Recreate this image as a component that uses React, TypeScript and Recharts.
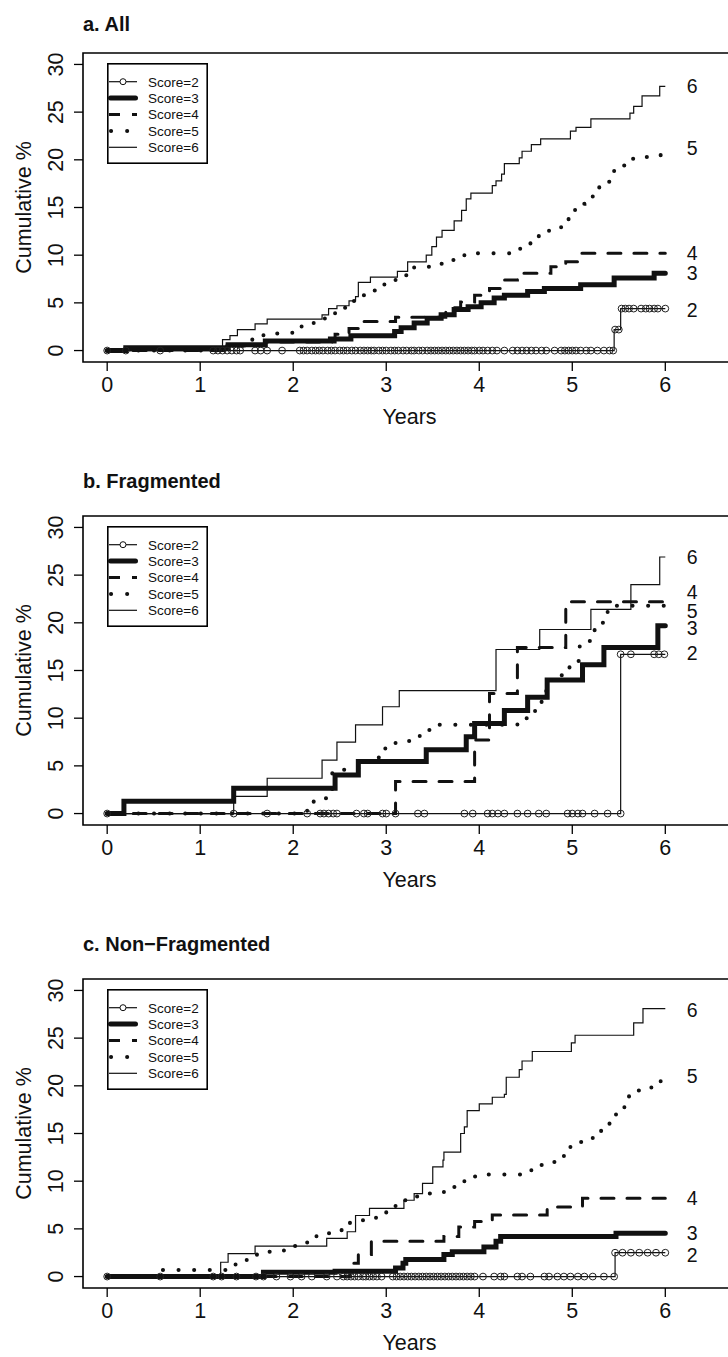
import React from 'react';
import { ComposedChart, Line, Scatter, XAxis, YAxis, ReferenceArea, Legend } from 'recharts';

type Pt = [number, number];
type CensGroup = [number, number[]];

const X_TICKS = [0, 1, 2, 3, 4, 5, 6];
const Y_TICKS = [0, 5, 10, 15, 20, 25, 30];
const X_DOMAIN: [number, number] = [-0.26, 6.76];
const Y_DOMAIN: [number, number] = [-1.2, 31.2];
const SERIES_NAMES = ['Score=2', 'Score=3', 'Score=4', 'Score=5', 'Score=6'];
const END_LABELS = ['2', '3', '4', '5', '6'];
const END_LABEL_X = 6.29;
const PANEL_TITLES = ['a. All', 'b. Fragmented', 'c. Non\u2212Fragmented'];

// ---------- a. All ----------
const A2: Pt[] = [[0, 0], [5.45, 2.2], [5.52, 4.4], [6.0, 4.4]];
const A3: Pt[] = [[0, 0], [0.2, 0.3], [1.3, 0.6], [1.7, 1.0], [2.4, 1.2], [2.62, 1.55], [3.09, 2.0], [3.16, 2.4], [3.3, 2.9], [3.44, 3.4], [3.59, 3.75], [3.73, 4.3], [3.88, 4.6], [4.02, 5.0], [4.16, 5.5], [4.27, 5.8], [4.52, 6.2], [4.7, 6.5], [5.09, 6.9], [5.45, 7.6], [5.88, 8.1], [6.0, 8.1]];
const A4: Pt[] = [[0, 0], [1.3, 0.5], [1.7, 0.9], [2.45, 1.7], [2.6, 2.3], [2.7, 3.05], [3.1, 3.5], [3.64, 4.5], [3.8, 5.1], [3.95, 5.8], [4.11, 6.5], [4.27, 7.4], [4.41, 8.1], [4.77, 8.8], [4.93, 9.3], [5.09, 10.2], [6.0, 10.2]];
const A5: Pt[] = [[0, 0], [1.25, 0.5], [1.56, 1.4], [1.68, 1.8], [1.99, 2.3], [2.09, 2.7], [2.22, 3.2], [2.34, 3.75], [2.45, 4.5], [2.6, 5.2], [2.72, 5.8], [2.87, 6.3], [2.98, 7.1], [3.1, 7.9], [3.3, 8.8], [3.48, 9.1], [3.62, 9.5], [3.84, 10.2], [4.44, 10.7], [4.55, 11.4], [4.64, 12.3], [4.75, 12.9], [4.88, 13.6], [4.96, 14.4], [5.03, 15.4], [5.13, 16.0], [5.22, 16.8], [5.29, 17.7], [5.4, 18.3], [5.45, 19.4], [5.56, 20.1], [5.7, 20.3], [5.95, 21.3], [6.0, 21.3]];
const A6: Pt[] = [[0, 0], [1.24, 1.15], [1.32, 1.56], [1.4, 2.2], [1.59, 2.8], [1.72, 3.3], [2.31, 3.75], [2.38, 4.4], [2.47, 4.7], [2.6, 5.2], [2.67, 5.66], [2.7, 7.15], [2.83, 7.7], [3.12, 8.3], [3.23, 9.3], [3.43, 10.0], [3.49, 10.9], [3.54, 11.9], [3.6, 12.6], [3.73, 13.6], [3.81, 14.7], [3.86, 15.9], [3.91, 16.5], [4.14, 17.3], [4.18, 17.8], [4.24, 18.5], [4.27, 19.6], [4.43, 20.2], [4.46, 20.9], [4.56, 21.6], [4.66, 22.2], [4.98, 23.0], [5.04, 23.4], [5.2, 24.3], [5.62, 24.9], [5.66, 25.6], [5.75, 26.7], [5.94, 27.7], [6.0, 27.7]];
const A2_CENS: CensGroup[] = [
  [0, [0, 0.2, 0.57, 1.14, 1.19, 1.24, 1.29, 1.34, 1.39, 1.43, 1.59, 1.65, 1.72, 1.88, 2.07, 2.11, 2.15, 2.2, 2.24, 2.28, 2.32, 2.37, 2.41, 2.45, 2.5, 2.54, 2.58, 2.63, 2.67, 2.72, 2.76, 2.8, 2.84, 2.87, 2.92, 2.96, 3.0, 3.05, 3.09, 3.13, 3.18, 3.22, 3.27, 3.3, 3.35, 3.39, 3.44, 3.48, 3.52, 3.56, 3.6, 3.64, 3.68, 3.72, 3.76, 3.8, 3.84, 3.88, 3.92, 3.95, 4.0, 4.04, 4.09, 4.14, 4.19, 4.27, 4.36, 4.41, 4.46, 4.51, 4.56, 4.61, 4.67, 4.72, 4.81, 4.88, 4.92, 4.96, 5.0, 5.04, 5.09, 5.15, 5.2, 5.27, 5.34, 5.4, 5.44]],
  [2.2, [5.46, 5.5]],
  [4.4, [5.53, 5.57, 5.61, 5.66, 5.74, 5.79, 5.83, 5.88, 5.92, 6.0]],
];
const A_LABEL_Y = [4.3, 8.1, 10.2, 21.25, 27.7];

// ---------- b. Fragmented ----------
const B2: Pt[] = [[0, 0], [5.52, 16.7], [6.0, 16.7]];
const B3: Pt[] = [[0, 0], [0.18, 1.3], [1.36, 2.65], [2.45, 4.05], [2.7, 5.45], [3.43, 6.7], [3.86, 8.05], [3.95, 9.45], [4.27, 10.8], [4.52, 12.2], [4.73, 14.0], [5.11, 15.6], [5.34, 17.4], [5.92, 19.7], [6.0, 19.7]];
const B4: Pt[] = [[0, 0], [3.1, 3.37], [3.95, 7.7], [4.11, 12.6], [4.41, 17.4], [4.93, 22.2], [6.0, 22.2]];
const B5: Pt[] = [[0, 0], [2.15, 0.6], [2.22, 1.6], [2.42, 4.6], [2.7, 5.1], [2.8, 5.6], [2.92, 6.1], [2.99, 7.1], [3.1, 7.6], [3.36, 8.75], [3.5, 9.3], [4.41, 10.0], [4.6, 10.9], [4.67, 12.4], [4.72, 14.0], [4.8, 14.5], [4.97, 16.0], [5.08, 18.1], [5.24, 20.0], [5.38, 21.8], [6.0, 21.8]];
const B6: Pt[] = [[0, 0], [1.36, 1.8], [1.72, 3.7], [2.31, 5.6], [2.47, 7.5], [2.67, 9.3], [2.96, 11.2], [3.14, 12.9], [4.18, 17.2], [4.65, 19.3], [5.2, 21.4], [5.63, 24.0], [5.94, 26.9], [6.0, 26.9]];
const B2_CENS: CensGroup[] = [
  [0, [0, 1.36, 1.72, 2.15, 2.29, 2.33, 2.38, 2.43, 2.47, 2.68, 2.76, 2.8, 2.96, 3.0, 3.1, 3.34, 3.41, 3.84, 3.93, 4.09, 4.14, 4.2, 4.27, 4.41, 4.52, 4.64, 4.72, 4.95, 5.0, 5.06, 5.11, 5.24, 5.38, 5.52]],
  [16.7, [5.52, 5.63, 5.88, 5.93, 5.99]],
];
const B_LABEL_Y = [16.8, 19.5, 23.2, 21.25, 26.9];

// ---------- c. Non-Fragmented ----------
const C2: Pt[] = [[0, 0], [5.46, 2.5], [6.0, 2.5]];
const C3: Pt[] = [[0, 0], [1.68, 0.45], [2.45, 0.55], [3.1, 0.9], [3.18, 1.4], [3.21, 1.8], [3.62, 2.3], [3.71, 2.6], [4.05, 3.1], [4.18, 3.7], [4.23, 4.2], [5.47, 4.55], [6.0, 4.55]];
const C4: Pt[] = [[0, 0], [2.61, 1.4], [2.7, 2.3], [2.84, 3.7], [3.62, 4.2], [3.78, 5.2], [3.95, 5.76], [4.14, 6.46], [4.73, 7.3], [5.11, 8.2], [6.0, 8.2]];
const C5: Pt[] = [[0, 0], [0.58, 0.7], [1.38, 1.4], [1.5, 1.95], [1.61, 2.6], [1.9, 3.2], [2.15, 4.0], [2.25, 4.55], [2.52, 5.2], [2.61, 5.9], [2.89, 6.6], [3.0, 7.3], [3.1, 8.0], [3.21, 8.4], [3.34, 8.7], [3.62, 9.4], [3.84, 10.5], [3.98, 10.7], [4.56, 11.7], [4.7, 12.0], [4.81, 12.5], [4.91, 13.2], [4.98, 14.1], [5.22, 15.2], [5.31, 15.8], [5.4, 16.7], [5.47, 17.6], [5.56, 18.4], [5.61, 19.5], [5.85, 20.3], [5.95, 21.1], [6.0, 21.1]];
const C6: Pt[] = [[0, 0], [1.22, 1.5], [1.3, 2.4], [1.59, 3.2], [2.36, 4.0], [2.58, 4.7], [2.67, 6.4], [2.82, 7.15], [3.19, 8.0], [3.3, 8.7], [3.39, 9.76], [3.5, 11.5], [3.61, 12.2], [3.62, 13.05], [3.8, 15.0], [3.84, 15.7], [3.87, 17.4], [4.0, 18.1], [4.14, 18.8], [4.27, 19.1], [4.29, 20.9], [4.43, 21.7], [4.46, 22.6], [4.57, 23.6], [4.99, 24.5], [5.03, 25.3], [5.66, 26.6], [5.76, 28.1], [6.0, 28.1]];
const C2_CENS: CensGroup[] = [
  [0, [0, 0.57, 1.14, 1.23, 1.39, 1.6, 1.68, 1.82, 1.97, 2.09, 2.2, 2.36, 2.47, 2.54, 2.58, 2.62, 2.66, 2.7, 2.75, 2.78, 2.82, 2.86, 2.9, 2.95, 3.07, 3.11, 3.15, 3.19, 3.23, 3.27, 3.31, 3.35, 3.39, 3.43, 3.47, 3.51, 3.55, 3.59, 3.63, 3.67, 3.71, 3.75, 3.79, 3.83, 3.87, 3.91, 3.95, 4.04, 4.16, 4.23, 4.27, 4.41, 4.46, 4.55, 4.7, 4.75, 4.84, 4.91, 4.98, 5.06, 5.13, 5.22, 5.34, 5.45]],
  [2.5, [5.46, 5.54, 5.63, 5.72, 5.81, 5.9, 6.0]],
];
const C_LABEL_Y = [2.3, 4.55, 8.2, 21.0, 28.0];

const PANELS = [
  { title: PANEL_TITLES[0], titleTop: 14, series: [A2, A3, A4, A5, A6], cens: A2_CENS, labelY: A_LABEL_Y },
  { title: PANEL_TITLES[1], titleTop: 8, series: [B2, B3, B4, B5, B6], cens: B2_CENS, labelY: B_LABEL_Y },
  { title: PANEL_TITLES[2], titleTop: 8, series: [C2, C3, C4, C5, C6], cens: C2_CENS, labelY: C_LABEL_Y },
];

const INK = '#111';
const FONT = '"Liberation Sans", Arial, Helvetica, sans-serif';

const STYLES = [
  { w: 1.2, dash: undefined as string | undefined, cap: 'butt' },
  { w: 5, dash: undefined, cap: 'round' },
  { w: 3, dash: '13 13', cap: 'round' },
  { w: 4, dash: '0.1 15.5', cap: 'round' },
  { w: 1.2, dash: undefined, cap: 'butt' },
];

const toXY = (pts: Pt[]) => pts.map(([x, y]) => ({ x, y }));

const XTick = (p: any) => (
  <text x={p.x} y={p.y + 19} textAnchor="middle" fontSize={21.5} fill={INK} fontFamily={FONT}>
    {p.payload.value}
  </text>
);

const YTick = (p: any) => {
  const bx = p.x - 9;
  return (
    <text x={bx} y={p.y} transform={`rotate(-90 ${bx} ${p.y})`} textAnchor="middle" fontSize={21.5} fill={INK} fontFamily={FONT}>
      {p.payload.value}
    </text>
  );
};

const XLabel = (p: any) => {
  const vb = p.viewBox || { x: 83, y: 362, width: 653 };
  const cx = vb.x + vb.width / 2;
  return (
    <text x={cx} y={vb.y + 62} textAnchor="middle" fontSize={21.5} fill={INK} fontFamily={FONT}>
      Years
    </text>
  );
};

const YLabel = (p: any) => {
  const vb = p.viewBox || { y: 53, height: 309 };
  const cy = vb.y + vb.height / 2;
  return (
    <text x={31} y={cy} transform={`rotate(-90 31 ${cy})`} textAnchor="middle" fontSize={21.5} fill={INK} fontFamily={FONT}>
      Cumulative %
    </text>
  );
};

const CircleMark = (p: any) => (
  <circle cx={p.cx} cy={p.cy} r={3.4} fill="none" stroke="#222" strokeWidth={1} />
);

const EndLabel = (p: any) => (
  <text x={p.cx} y={p.cy} dy={7} textAnchor="middle" fontSize={19.5} fill={INK} fontFamily={FONT}>
    {p.payload.label}
  </text>
);

const LegendBox = () => (
  <svg width={101} height={101} style={{ display: 'block' }}>
    <rect x={0.8} y={0.8} width={99.4} height={99.4} fill="#fff" stroke="#000" strokeWidth={1.6} />
    {SERIES_NAMES.map((n, i) => {
      const y = 18.7 + i * 16.4;
      let sample: React.ReactNode;
      if (i === 0) {
        sample = (
          <g>
            <line x1={2} x2={30} y1={y} y2={y} stroke={INK} strokeWidth={1.2} />
            <circle cx={16} cy={y} r={3} fill="#fff" stroke={INK} strokeWidth={1} />
          </g>
        );
      } else if (i === 1) {
        sample = <line x1={3.5} x2={28.5} y1={y} y2={y} stroke={INK} strokeWidth={5} strokeLinecap="round" />;
      } else if (i === 2) {
        sample = <line x1={2} x2={30} y1={y} y2={y} stroke={INK} strokeWidth={3} strokeDasharray="11 12" />;
      } else if (i === 3) {
        sample = <line x1={4} x2={30} y1={y} y2={y} stroke={INK} strokeWidth={4} strokeDasharray="0.1 16" strokeLinecap="round" />;
      } else {
        sample = <line x1={2} x2={30} y1={y} y2={y} stroke={INK} strokeWidth={1.2} />;
      }
      return (
        <g key={n}>
          {sample}
          <text x={41} y={y} dy="0.36em" fontSize={13.5} fill={INK} fontFamily={FONT}>
            {n}
          </text>
        </g>
      );
    })}
  </svg>
);

function Panel({ idx }: { idx: number }) {
  const cfg = PANELS[idx];
  const censPts = cfg.cens.flatMap(([v, ts]) => ts.map((t) => ({ x: t, y: v })));
  const labelPts = END_LABELS.map((l, i) => ({ x: END_LABEL_X, y: cfg.labelY[i], label: l }));
  return (
    <div style={{ position: 'absolute', left: 0, top: idx * 463, width: 760, height: 463 }}>
      <div
        style={{
          position: 'absolute',
          left: 83,
          top: cfg.titleTop,
          fontFamily: FONT,
          fontWeight: 'bold',
          fontSize: 20,
          lineHeight: '20px',
          whiteSpace: 'nowrap',
          color: INK,
          zIndex: 2,
        }}
      >
        {cfg.title}
      </div>
      <ComposedChart width={760} height={463} margin={{ top: 53, right: 24, bottom: 31, left: 23 }}>
        <XAxis
          type="number"
          dataKey="x"
          domain={X_DOMAIN}
          ticks={X_TICKS}
          interval={0}
          allowDataOverflow
          axisLine={false}
          tickSize={9}
          tickLine={{ stroke: '#000', strokeWidth: 1.3 }}
          tick={<XTick />}
          height={70}
          label={<XLabel />}
        />
        <YAxis
          type="number"
          dataKey="y"
          domain={Y_DOMAIN}
          ticks={Y_TICKS}
          interval={0}
          allowDataOverflow
          axisLine={false}
          tickSize={9}
          tickLine={{ stroke: '#000', strokeWidth: 1.3 }}
          tick={<YTick />}
          width={60}
          label={<YLabel />}
        />
        <ReferenceArea
          x1={X_DOMAIN[0]}
          x2={X_DOMAIN[1]}
          y1={Y_DOMAIN[0]}
          y2={Y_DOMAIN[1]}
          fill="none"
          fillOpacity={0}
          stroke="#000"
          strokeWidth={1.6}
          ifOverflow="visible"
        />
        {cfg.series.map((s, i) => (
          <Line
            key={SERIES_NAMES[i]}
            name={SERIES_NAMES[i]}
            data={toXY(s)}
            dataKey="y"
            type="stepAfter"
            stroke={INK}
            strokeWidth={STYLES[i].w}
            strokeDasharray={STYLES[i].dash}
            strokeLinecap={STYLES[i].cap as any}
            dot={false}
            activeDot={false}
            isAnimationActive={false}
            legendType="none"
          />
        ))}
        <Scatter name="censored" data={censPts} shape={CircleMark} isAnimationActive={false} legendType="none" />
        <Scatter name="labels" data={labelPts} shape={EndLabel} isAnimationActive={false} legendType="none" />
        <Legend
          layout="vertical"
          align="center"
          verticalAlign="middle"
          content={<LegendBox />}
          wrapperStyle={{ left: 107, top: 63, width: 101, height: 101, right: 'auto', bottom: 'auto' }}
        />
      </ComposedChart>
    </div>
  );
}

export default function App() {
  return (
    <div
      style={{
        position: 'absolute',
        left: 0,
        top: 0,
        width: 728,
        height: 1357,
        overflow: 'hidden',
        background: '#fff',
        fontFamily: FONT,
      }}
    >
      <Panel idx={0} />
      <Panel idx={1} />
      <Panel idx={2} />
    </div>
  );
}
